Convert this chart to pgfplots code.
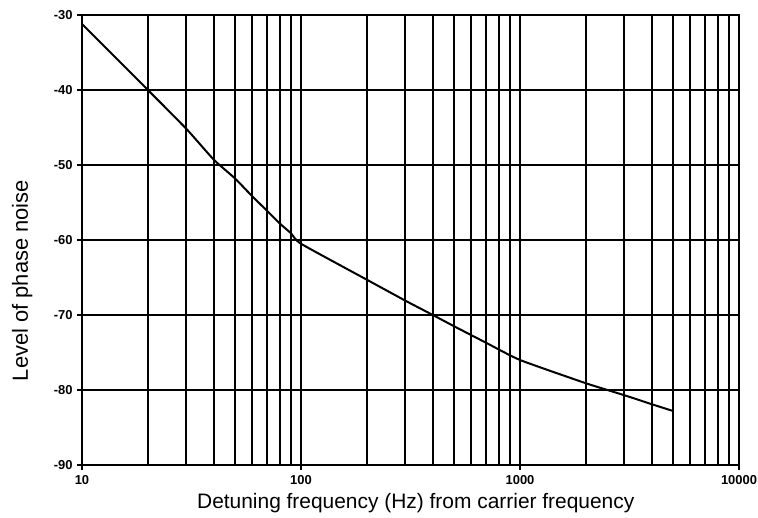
\documentclass[border=0pt]{standalone}
\usepackage{fontspec}
\setmainfont{Liberation Sans}
\usepackage{pgfplots}
\pgfplotsset{compat=1.18}
\newcommand\tl[1]{\hbox{\fontsize{13}{15}\selectfont\bfseries #1}}
\begin{document}
\begin{tikzpicture}
\begin{semilogxaxis}[
  at={(0,0)}, anchor=south west,
  scale only axis, width=657bp, height=450bp,
  xmin=10, xmax=10000, ymin=-90, ymax=-30,
  xtick={10,100,1000,10000},
  xticklabels={{\tl{10}},{\tl{100}},{\tl{1000}},{\tl{10000}}},
  minor xtick={20,30,40,50,60,70,80,90,200,300,400,500,600,700,800,900,2000,3000,4000,5000,6000,7000,8000,9000},
  ytick={-90,-80,-70,-60,-50,-40,-30},
  yticklabels={{\tl{-90}},{\tl{-80}},{\tl{-70}},{\tl{-60}},{\tl{-50}},{\tl{-40}},{\tl{-30}}},
  tick pos=left,
  tick align=outside, major tick length=5bp, minor tick length=0pt,
  tick style={black, line width=1.5bp},
  xmajorgrids, xminorgrids, ymajorgrids,
  major grid style={black, line width=2bp},
  minor grid style={black, line width=2bp},
  axis line style={black, line width=2bp},
  xticklabel style={yshift=-2bp},
  yticklabel style={xshift=-1bp},
  xlabel={Detuning frequency (Hz) from carrier frequency},
  ylabel={Level of phase noise},
  xlabel style={at={(axis description cs:0.508,-0.0956)}, anchor=base, font=\fontsize{21}{25}\selectfont},
  ylabel style={at={(axis description cs:-0.0822,0.41)}, anchor=base, font=\fontsize{22}{26}\selectfont},
]
\addplot[black, line width=2bp, mark=none, smooth, tension=0.3] coordinates {
  (10,-31.2) (20,-40) (30,-45.2) (40,-49.3) (50,-51.8) (60,-54.2)
  (70,-56.1) (80,-57.8) (90,-59.1) (100,-60.5) (200,-65.3) (300,-68.1)
  (400,-70.0) (500,-71.5) (700,-73.7) (1000,-76.0) (2000,-79.1)
  (3000,-80.7) (4000,-81.9) (5000,-82.8)
};
\end{semilogxaxis}
\pgfresetboundingbox
\path[use as bounding box] (-82bp,-53bp) rectangle (676bp,465bp);
\end{tikzpicture}
\end{document}
